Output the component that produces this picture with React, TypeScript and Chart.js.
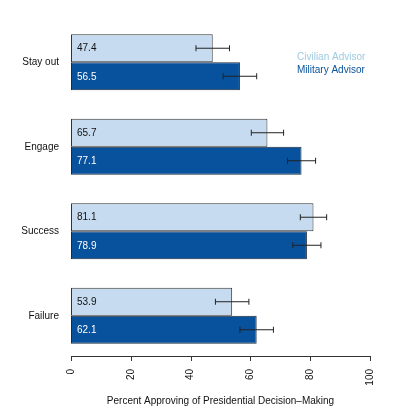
import React, { useEffect, useRef } from "react";
import { Chart, registerables } from "chart.js";

Chart.register(...registerables);

const categories = ["Stay out", "Engage", "Success", "Failure"];
const civilianValues = [47.4, 65.7, 81.1, 53.9];
const militaryValues = [56.5, 77.1, 78.9, 62.1];
const civilianErr = [5.6, 5.4, 4.4, 5.6];
const militaryErr = [5.6, 4.7, 4.7, 5.6];
const xTicks = [0, 20, 40, 60, 80, 100];
const seriesNames = ["Civilian Advisor", "Military Advisor"];
const xTitle = "Percent Approving of Presidential Decision\u2013Making";

const FONT = "'Liberation Sans', Arial, Helvetica, sans-serif";
const CIV_FILL = "#c6dbef";
const MIL_FILL = "#08519c";

const overlayPlugin = {
  id: "overlay",
  afterDatasetsDraw(chart: any) {
    const ctx = chart.ctx;
    const xs = chart.scales.x;
    const ys = chart.scales.y;
    ctx.save();

    // error bars and value labels
    const errs = [civilianErr, militaryErr];
    chart.data.datasets.forEach((ds: any, di: number) => {
      const meta = chart.getDatasetMeta(di);
      meta.data.forEach((bar: any, i: number) => {
        const v = ds.data[i];
        const e = errs[di][i];
        const y = bar.y;
        const x0 = xs.getPixelForValue(v - e);
        const x1 = xs.getPixelForValue(v + e);
        ctx.strokeStyle = "#222";
        ctx.lineWidth = 1;
        ctx.beginPath();
        ctx.moveTo(x0, y);
        ctx.lineTo(x1, y);
        ctx.moveTo(x0, y - 3);
        ctx.lineTo(x0, y + 3);
        ctx.moveTo(x1, y - 3);
        ctx.lineTo(x1, y + 3);
        ctx.stroke();

        ctx.font = `10px ${FONT}`;
        ctx.textAlign = "left";
        ctx.textBaseline = "middle";
        ctx.fillStyle = di === 0 ? "#111" : "#ffffff";
        ctx.fillText(v.toFixed(1), xs.getPixelForValue(0) + 6, y + 0.5);
      });
    });

    // category labels
    ctx.font = `10px ${FONT}`;
    ctx.fillStyle = "#111";
    ctx.textAlign = "right";
    ctx.textBaseline = "middle";
    categories.forEach((c, i) => {
      ctx.fillText(c, 59, ys.getPixelForValue(i));
    });

    // x axis
    const axY = 356;
    const left = xs.getPixelForValue(xTicks[0]);
    const right = xs.getPixelForValue(xTicks[xTicks.length - 1]);
    ctx.strokeStyle = "#333";
    ctx.lineWidth = 1;
    ctx.beginPath();
    ctx.moveTo(left, axY + 0.5);
    ctx.lineTo(right, axY + 0.5);
    xTicks.forEach((t) => {
      const px = Math.round(xs.getPixelForValue(t)) + 0.5;
      ctx.moveTo(px, axY);
      ctx.lineTo(px, axY + 5);
    });
    ctx.stroke();

    ctx.fillStyle = "#111";
    ctx.font = `10px ${FONT}`;
    xTicks.forEach((t) => {
      const px = xs.getPixelForValue(t);
      ctx.save();
      ctx.translate(px, 369);
      ctx.rotate(-Math.PI / 2);
      ctx.textAlign = "right";
      ctx.textBaseline = "middle";
      ctx.fillText(String(t), 0, 0);
      ctx.restore();
    });

    ctx.textAlign = "center";
    ctx.textBaseline = "middle";
    ctx.fillText(xTitle, (left + right) / 2, 401);

    // legend
    ctx.textAlign = "left";
    ctx.textBaseline = "middle";
    ctx.fillStyle = "#9ecae1";
    ctx.fillText(seriesNames[0], 297, 57);
    ctx.fillStyle = MIL_FILL;
    ctx.fillText(seriesNames[1], 297, 70);

    ctx.restore();
  },
};

export default function App() {
  const ref = useRef<HTMLCanvasElement>(null);

  useEffect(() => {
    document.body.style.margin = "0";
    const canvas = ref.current;
    if (!canvas) return;
    const chart = new Chart(canvas, {
      type: "bar",
      data: {
        labels: categories,
        datasets: [
          {
            label: seriesNames[0],
            data: civilianValues,
            backgroundColor: CIV_FILL,
            borderColor: "#333",
            borderWidth: 1,
            borderSkipped: false,
            categoryPercentage: 0.663,
            barPercentage: 1.0,
          },
          {
            label: seriesNames[1],
            data: militaryValues,
            backgroundColor: MIL_FILL,
            borderColor: "#1c2a3a",
            borderWidth: 1,
            borderSkipped: false,
            categoryPercentage: 0.663,
            barPercentage: 1.0,
          },
        ],
      },
      options: {
        indexAxis: "y",
        responsive: false,
        animation: false,
        layout: { padding: { left: 71, right: 23, top: 20, bottom: 58 } },
        plugins: {
          legend: { display: false },
          tooltip: { enabled: false },
        },
        scales: {
          x: { display: false, min: 0, max: 100 },
          y: { display: false },
        },
      },
      plugins: [overlayPlugin],
    });
    return () => chart.destroy();
  }, []);

  return (
    <div style={{ width: 393, height: 416, background: "#fff" }}>
      <canvas ref={ref} width={393} height={416} />
    </div>
  );
}
